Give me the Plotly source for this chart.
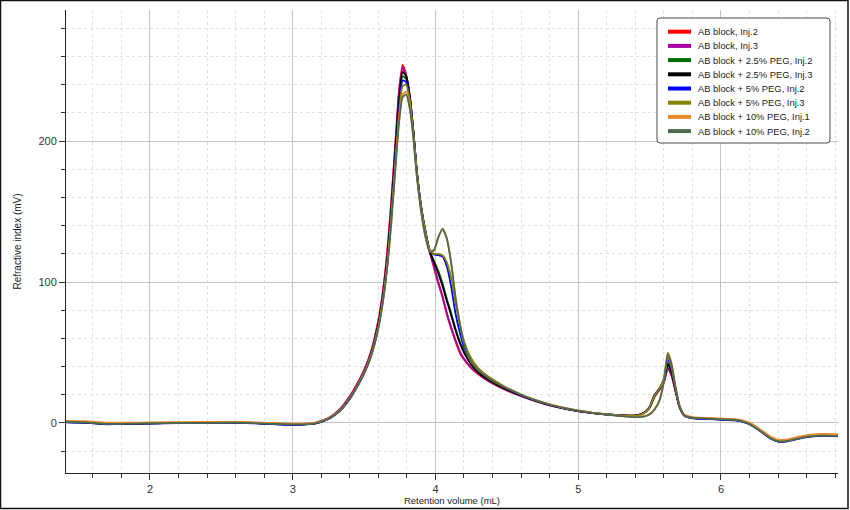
import plotly.graph_objects as go

# ---------------- data ----------------
retention_ml = [
    1.41, 1.55, 1.7, 1.85, 2.0,
    2.2, 2.4, 2.6, 2.75, 2.9,
    3.05, 3.15, 3.2, 3.25, 3.3,
    3.35, 3.4, 3.45, 3.5, 3.55,
    3.6, 3.63, 3.66, 3.69, 3.72,
    3.745, 3.77, 3.795, 3.82, 3.845,
    3.87, 3.9, 3.93, 3.96, 3.99,
    4.02, 4.05, 4.08, 4.11, 4.14,
    4.17, 4.2, 4.25, 4.3, 4.35,
    4.4, 4.5, 4.6, 4.7, 4.8,
    4.9, 5.0, 5.1, 5.2, 5.3,
    5.4, 5.46, 5.5, 5.535, 5.57,
    5.6, 5.628, 5.655, 5.68, 5.71,
    5.745, 5.8, 5.9, 6.0, 6.1,
    6.15, 6.2, 6.25, 6.3, 6.35,
    6.4, 6.45, 6.5, 6.55, 6.6,
    6.7, 6.82,
]

ab_inj2 = [
    0.8, 0.5, -0.6, -0.4, -0.2,
    0.1, 0.2, 0.3, 0.0, -0.7,
    -0.9, -0.2, 1.5, 3.5, 7.0,
    12.0, 19.0, 27.5, 37.5, 51.0,
    73.0, 92.0, 119.0, 156.0, 200.0,
    236.0, 254.0, 247.0, 232.0, 207.0,
    177.0, 152.0, 135.0, 121.0, 110.0,
    99.0, 89.0, 77.0, 67.0, 58.0,
    50.0, 45.0, 39.0, 34.5, 31.0,
    28.0, 23.0, 19.0, 15.5, 12.5,
    10.2, 8.3, 7.0, 6.0, 5.3,
    5.2, 7.0, 11.0, 19.0, 24.0,
    29.0, 38.5, 33.0, 23.0, 11.0,
    5.0, 3.5, 3.0, 2.6, 2.2,
    1.3, -0.5, -3.5, -7.0, -10.5,
    -12.5, -12.5, -11.5, -10.3, -9.3,
    -8.4, -8.6,
]

ab_inj3 = [
    0.7, 0.4, -0.5, -0.4, -0.1,
    0.1, 0.3, 0.3, 0.0, -0.6,
    -0.9, -0.2, 1.4, 3.4, 6.9,
    11.8, 18.7, 27.2, 37.2, 50.5,
    72.0, 91.0, 117.5, 154.5, 198.0,
    234.0, 252.0, 246.0, 231.5, 207.0,
    177.5, 152.5, 135.5, 121.5, 111.0,
    100.0, 90.0, 78.0, 68.0, 59.0,
    51.0, 45.5, 39.5, 35.0, 31.2,
    28.2, 23.2, 19.2, 15.7, 12.6,
    10.3, 8.4, 7.1, 6.1, 5.4,
    5.3, 7.0, 10.8, 18.5, 23.5,
    28.5, 39.0, 33.5, 23.5, 11.2,
    5.1, 3.6, 3.1, 2.6, 2.2,
    1.3, -0.5, -3.6, -7.1, -10.6,
    -12.6, -12.6, -11.6, -10.4, -9.4,
    -8.5, -8.7,
]

peg25_inj2 = [
    0.6, 0.3, -0.8, -0.5, -0.2,
    0.0, 0.2, 0.2, -0.1, -0.8,
    -1.0, -0.4, 1.0, 3.0, 6.2,
    10.8, 17.3, 25.8, 35.6, 48.5,
    69.0, 87.0, 112.0, 148.0, 191.0,
    226.0, 246.0, 244.0, 231.0, 207.0,
    178.0, 153.0, 135.5, 122.0, 115.0,
    108.0, 99.0, 88.0, 78.0, 67.0,
    58.0, 51.0, 42.0, 36.0, 32.0,
    29.0, 23.8, 19.5, 15.8, 12.8,
    10.4, 8.5, 7.1, 6.1, 5.4,
    5.2, 7.0, 11.0, 19.5, 24.5,
    30.0, 41.0, 35.0, 24.5, 11.5,
    5.2, 3.6, 3.1, 2.6, 2.1,
    1.2, -0.6, -3.7, -7.2, -10.8,
    -12.8, -12.8, -11.8, -10.6, -9.6,
    -8.7, -8.9,
]

peg25_inj3 = [
    0.6, 0.3, -0.8, -0.6, -0.3,
    0.0, 0.1, 0.2, -0.2, -0.9,
    -1.1, -0.4, 1.0, 3.0, 6.3,
    11.0, 17.6, 26.0, 35.8, 49.0,
    70.0, 88.0, 113.5, 150.0, 194.0,
    229.0, 249.0, 246.0, 232.0, 207.5,
    178.0, 153.0, 135.5, 122.0, 114.0,
    106.0, 97.0, 86.5, 76.5, 66.0,
    57.0, 50.0, 41.5, 36.0, 32.0,
    29.0, 23.8, 19.5, 15.8, 12.8,
    10.4, 8.5, 7.1, 6.1, 5.4,
    5.2, 7.0, 11.0, 19.5, 24.5,
    30.5, 42.0, 35.5, 24.5, 11.5,
    5.2, 3.6, 3.1, 2.5, 2.0,
    1.1, -0.7, -3.8, -7.3, -10.9,
    -12.9, -12.9, -11.9, -10.7, -9.7,
    -8.8, -9.0,
]

peg5_inj2 = [
    0.5, 0.2, -0.9, -0.6, -0.4,
    -0.1, 0.0, 0.1, -0.3, -1.0,
    -1.2, -0.5, 0.8, 2.8, 6.0,
    10.5, 17.0, 25.3, 35.0, 48.0,
    68.0, 86.0, 110.0, 146.0, 188.0,
    222.0, 243.0, 242.0, 230.0, 207.0,
    178.5, 153.5, 136.0, 122.5, 119.5,
    119.0, 118.0, 111.0, 97.0, 78.0,
    64.5, 54.0, 44.5, 38.0, 34.0,
    30.5, 24.5, 19.8, 16.0, 12.9,
    10.4, 8.5, 7.0, 6.0, 5.3,
    5.1, 7.0, 11.5, 20.0, 24.5,
    31.0, 45.0, 37.5, 25.0, 11.5,
    5.0, 3.4, 2.9, 2.4, 1.9,
    1.0, -0.9, -4.0, -7.6, -11.2,
    -13.2, -13.3, -12.3, -11.1, -10.1,
    -9.2, -9.4,
]

peg5_inj3 = [
    0.9, 0.6, -0.4, -0.3, 0.0,
    0.2, 0.3, 0.4, 0.1, -0.5,
    -0.8, -0.2, 1.2, 3.2, 6.3,
    10.8, 17.4, 25.8, 35.5, 48.5,
    68.5, 86.5, 110.5, 145.0, 186.0,
    219.0, 239.0, 240.0, 229.0, 206.0,
    178.0, 153.0, 135.5, 122.5, 120.0,
    120.0, 119.0, 114.0, 103.0, 86.0,
    70.0, 58.0, 46.0, 39.0, 34.5,
    31.0, 25.0, 20.2, 16.3, 13.1,
    10.6, 8.7, 7.2, 6.1, 5.3,
    5.0, 6.8, 11.2, 19.5, 24.5,
    31.5, 47.0, 39.0, 25.5, 12.0,
    5.3, 3.8, 3.3, 2.9, 2.4,
    1.5, -0.3, -3.3, -6.8, -10.3,
    -12.3, -12.3, -11.3, -10.1, -9.1,
    -8.2, -8.4,
]

peg10_inj1 = [
    1.5, 1.2, 0.2, 0.2, 0.4,
    0.6, 0.7, 0.7, 0.4, -0.2,
    -0.5, 0.0, 1.3, 3.2, 6.4,
    11.0, 17.4, 26.0, 35.3, 48.0,
    67.5, 85.0, 108.5, 142.0, 183.0,
    215.0, 233.0, 235.0, 224.0, 203.0,
    175.0, 150.0, 132.0, 122.0, 123.0,
    132.0, 138.0, 131.0, 114.0, 90.0,
    71.0, 57.0, 43.5, 37.5, 33.5,
    30.0, 24.8, 20.2, 16.4, 13.3,
    10.9, 8.9, 7.4, 6.2, 5.1,
    4.4, 4.8, 6.3, 9.8, 16.5,
    30.0, 50.0, 42.0, 27.0, 12.5,
    5.8, 4.2, 3.6, 3.2, 2.8,
    1.9, 0.2, -2.8, -6.3, -9.8,
    -11.8, -11.8, -10.8, -9.6, -8.6,
    -7.8, -8.0,
]

peg10_inj2 = [
    0.7, 0.4, -0.6, -0.5, -0.2,
    0.0, 0.1, 0.2, -0.1, -0.7,
    -1.0, -0.4, 1.0, 3.0, 6.2,
    10.7, 17.1, 25.6, 34.8, 47.5,
    67.0, 84.5, 108.0, 141.0, 181.0,
    213.0, 231.0, 233.0, 223.0, 202.5,
    175.0, 150.0, 132.0, 121.5, 122.5,
    131.5, 137.5, 130.5, 113.5, 89.5,
    71.0, 57.0, 43.5, 37.5, 33.5,
    30.0, 24.6, 20.0, 16.2, 13.1,
    10.7, 8.7, 7.2, 6.0, 4.9,
    4.1, 4.5, 6.0, 9.5, 16.0,
    29.0, 49.0, 41.0, 26.5, 12.0,
    5.3, 3.7, 3.1, 2.6, 2.1,
    1.1, -0.8, -3.9, -7.4, -11.0,
    -13.0, -13.1, -12.1, -10.9, -9.9,
    -9.0, -9.2,
]

series_names = [
    "AB block, Inj.2",
    "AB block, Inj.3",
    "AB block + 2.5% PEG, Inj.2",
    "AB block + 2.5% PEG, Inj.3",
    "AB block + 5% PEG, Inj.2",
    "AB block + 5% PEG, Inj.3",
    "AB block + 10% PEG, Inj.1",
    "AB block + 10% PEG, Inj.2",
]
series_values = [ab_inj2, ab_inj3, peg25_inj2, peg25_inj3,
                 peg5_inj2, peg5_inj3, peg10_inj1, peg10_inj2]
series_colors = ["#FF0000", "#A600A6", "#006E00", "#000000",
                 "#0000FF", "#848400", "#EC8A2E", "#4C6A4E"]

for v in series_values:
    assert len(v) == len(retention_ml)

# ---------------- figure ----------------
W, H = 850, 510
ML, MR, MT, MB = 66, 12, 10, 37
PW, PH = W - ML - MR, H - MT - MB


def px_x(px):
    """figure pixel column -> paper x"""
    return (px - ML) / PW


def px_y(py):
    """figure pixel row -> paper y"""
    return 1 - (py - MT) / PH


FONT = "Liberation Sans, Arial, sans-serif"

fig = go.Figure()
for name, vals, col in zip(series_names, series_values, series_colors):
    fig.add_trace(go.Scatter(
        x=retention_ml, y=vals, mode="lines", name=name,
        line=dict(color=col, width=1.8, shape="spline", smoothing=0.6),
        showlegend=False, hoverinfo="skip",
    ))

# ---- legend box (drawn as layout decoration, entries from series lists) ----
shapes = []
annotations = []
LEG_L, LEG_R, LEG_T, LEG_B, RAD = 657, 830, 18, 143, 3
x0, x1 = px_x(LEG_L), px_x(LEG_R)
y0, y1 = px_y(LEG_B), px_y(LEG_T)
rx, ry = RAD / PW, RAD / PH
path = (f"M {x0+rx},{y1} L {x1-rx},{y1} Q {x1},{y1} {x1},{y1-ry} "
        f"L {x1},{y0+ry} Q {x1},{y0} {x1-rx},{y0} L {x0+rx},{y0} "
        f"Q {x0},{y0} {x0},{y0+ry} L {x0},{y1-ry} Q {x0},{y1} {x0+rx},{y1} Z")
shapes.append(dict(type="path", xref="paper", yref="paper", path=path,
                   fillcolor="white", line=dict(color="#4a4a4a", width=1),
                   layer="above"))
for i, (name, col) in enumerate(zip(series_names, series_colors)):
    yc = 31.7 + 14.2 * i
    shapes.append(dict(type="line", xref="paper", yref="paper",
                       x0=px_x(668), x1=px_x(691), y0=px_y(yc), y1=px_y(yc),
                       line=dict(color=col, width=4), layer="above"))
    annotations.append(dict(xref="paper", yref="paper", x=px_x(696), y=px_y(yc),
                            xanchor="left", yanchor="middle", showarrow=False,
                            text=name, font=dict(family=FONT, size=9.4, color="#222222")))

# figure frame
shapes.append(dict(
    type="rect", xref="paper", yref="paper",
    x0=px_x(0.5), x1=px_x(W - 2), y0=px_y(H - 1.5), y1=px_y(0.5),
    line=dict(color="#111111", width=1.5), fillcolor="rgba(0,0,0,0)",
    layer="above",
))

fig.update_layout(
    width=W, height=H,
    margin=dict(l=ML, r=MR, t=MT, b=MB, pad=0, autoexpand=False),
    paper_bgcolor="white", plot_bgcolor="white",
    font=dict(family=FONT, size=11, color="#333333"),
    showlegend=False,
    xaxis=dict(
        range=[1.412, 6.82], tick0=0, dtick=1, automargin=False,
        ticks="outside", ticklen=6, tickcolor="#333333", tickwidth=1,
        showline=True, linecolor="#222222", linewidth=1,
        showgrid=True, gridcolor="#c4c4c4", gridwidth=1, zeroline=False,
        tickfont=dict(size=11, color="#333333"),
        minor=dict(tick0=0, dtick=0.2, ticks="outside", ticklen=4,
                   tickcolor="#333333", showgrid=True, gridcolor="#e0e0e0",
                   griddash="dot", gridwidth=1),
        title=dict(text="Retention volume (mL)", font=dict(size=9.5, color="#222222"),
                   standoff=3),
    ),
    yaxis=dict(
        range=[-35.5, 293], tick0=0, dtick=100, automargin=False,
        ticks="outside", ticklen=6, tickcolor="#333333", tickwidth=1,
        showline=True, linecolor="#222222", linewidth=1,
        showgrid=True, gridcolor="#c4c4c4", gridwidth=1, zeroline=False,
        tickfont=dict(size=11, color="#333333"),
        minor=dict(tick0=0, dtick=20, ticks="outside", ticklen=4,
                   tickcolor="#333333", showgrid=True, gridcolor="#e0e0e0",
                   griddash="dot", gridwidth=1),
        title=dict(text="Refractive index (mV)", font=dict(size=10, color="#222222"),
                   standoff=14),
    ),
    shapes=shapes,
    annotations=annotations,
)

fig.write_html(
    "out.html",
    config={"displayModeBar": False},
    post_script="document.body.style.margin='0';document.body.style.overflow='hidden';",
)
